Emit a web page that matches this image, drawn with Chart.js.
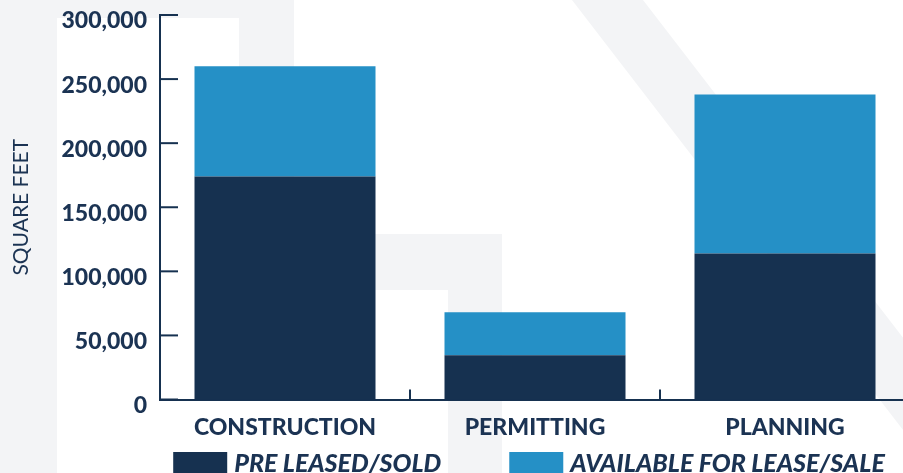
<!DOCTYPE html>
<html>
<head>
<meta charset="utf-8">
<script src="https://cdn.jsdelivr.net/npm/chart.js@4.4.1/dist/chart.umd.min.js"></script>
<style>
  html, body { margin: 0; padding: 0; background: #fff; overflow: hidden; }
  #wrap { position: relative; width: 920px; height: 473px; }
</style>
</head>
<body>
<div id="wrap"><canvas id="sqftChart"></canvas></div>
<script>
// 카테고리와 시리즈 값
const categories = ['CONSTRUCTION', 'PERMITTING', 'PLANNING'];
const preLeasedSold = [174000, 34500, 114000];
const availableLeaseSale = [86000, 33500, 124000];
const seriesLabels = ['PRE LEASED/SOLD', 'AVAILABLE FOR LEASE/SALE'];
const yTickValues = [0, 50000, 100000, 150000, 200000, 250000, 300000];

const NAVY = '#163150';
const BLUE = '#2590c6';
const TEXT = '#1b3353';
const GRAY = '#f3f4f6';
const FONT = 'Lato';

// 배경 장식 (회색 도형)
const backdrop = {
    id: 'backdrop',
    beforeDraw(chart) {
        const ctx = chart.ctx;
        ctx.save();
        ctx.fillStyle = '#fff';
        ctx.fillRect(0, 0, chart.width, chart.height);
        ctx.fillStyle = GRAY;
        ctx.fillRect(0, 0, 57, chart.height);
        ctx.fillRect(0, 0, 294, 18);
        ctx.fillRect(239, 0, 55, 240);
        ctx.fillRect(294, 234, 208, 56);
        ctx.fillRect(448, 234, 54, chart.height);
        ctx.beginPath();
        ctx.moveTo(572, 0);
        ctx.lineTo(643, 0);
        ctx.lineTo(643 + 0.77 * chart.height, chart.height);
        ctx.lineTo(572 + 0.77 * chart.height, chart.height);
        ctx.closePath();
        ctx.fill();
        ctx.restore();
    }
};

// 축 안쪽으로 향하는 눈금 표시
const innerTicks = {
    id: 'innerTicks',
    afterDatasetsDraw(chart) {
        const {ctx, scales: {x, y}} = chart;
        ctx.save();
        ctx.strokeStyle = NAVY;
        ctx.lineWidth = 2;
        y.ticks.forEach((t, i) => {
            const py = y.getPixelForTick(i);
            ctx.beginPath();
            ctx.moveTo(y.right, py);
            ctx.lineTo(y.right + 18, py);
            ctx.stroke();
        });
        for (let i = 0; i < categories.length - 1; i++) {
            const px = (x.getPixelForValue(i) + x.getPixelForValue(i + 1)) / 2;
            ctx.beginPath();
            ctx.moveTo(px, x.top);
            ctx.lineTo(px, x.top - 10);
            ctx.stroke();
        }
        ctx.restore();
    }
};

// 하단 범례 (차트 아래 한 줄로)
const bottomLegend = {
    id: 'bottomLegend',
    afterDraw(chart) {
        const {ctx, chartArea} = chart;
        const boxW = 54, boxH = 24, gap = 7, itemGap = 68;
        ctx.save();
        ctx.font = 'italic 900 25px ' + FONT;
        ctx.textBaseline = 'middle';
        const items = chart.data.datasets.map(ds => ({
            text: ds.label,
            color: ds.backgroundColor,
            w: boxW + gap + ctx.measureText(ds.label).width
        }));
        const total = items.reduce((s, it) => s + it.w, 0) + itemGap * (items.length - 1);
        let x = (chartArea.left + chartArea.right) / 2 - 6 - total / 2;
        const cy = chartArea.bottom + 64.5;
        items.forEach(it => {
            ctx.fillStyle = it.color;
            ctx.fillRect(x, cy - boxH / 2, boxW, boxH);
            ctx.fillStyle = TEXT;
            ctx.fillText(it.text, x + boxW + gap, cy);
            x += it.w + itemGap;
        });
        ctx.restore();
    }
};

const ctx = document.getElementById('sqftChart').getContext('2d');
const sqftChart = new Chart(ctx, {
    type: 'bar',
    data: {
        labels: categories,
        datasets: [
            { label: seriesLabels[0], data: preLeasedSold, backgroundColor: NAVY },
            { label: seriesLabels[1], data: availableLeaseSale, backgroundColor: BLUE }
        ]
    },
    options: {
        responsive: true,
        maintainAspectRatio: false,
        animation: false,
        barPercentage: 0.724,
        categoryPercentage: 1,
        layout: { padding: { top: 15, right: 10, left: 0, bottom: 0 } },
        scales: {
            x: {
                stacked: true,
                grid: { display: false, drawTicks: false },
                border: { display: true, color: NAVY, width: 2 },
                ticks: {
                    color: TEXT,
                    padding: 14,
                    maxRotation: 0,
                    autoSkip: false,
                    font: { family: FONT, size: 23, weight: 900 }
                },
                afterFit(scale) { scale.height = 73.5; }
            },
            y: {
                stacked: true,
                min: 0,
                max: 300000,
                grid: { display: false, drawTicks: false },
                border: { display: true, color: NAVY, width: 2 },
                afterBuildTicks(scale) {
                    scale.ticks = yTickValues.map(v => ({ value: v }));
                },
                ticks: {
                    color: TEXT,
                    padding: 13,
                    labelOffset: 6,
                    font: { family: FONT, size: 23, weight: 900, lineHeight: 0.1 },
                    callback: v => v.toLocaleString('en-US')
                },
                title: {
                    display: true,
                    text: 'SQUARE FEET',
                    color: TEXT,
                    padding: { top: 9, bottom: 0 },
                    font: { family: FONT, size: 21, weight: 'normal' }
                },
                afterFit(scale) { scale.width = 160; }
            }
        },
        plugins: {
            legend: { display: false },
            tooltip: { enabled: false }
        }
    },
    plugins: [backdrop, innerTicks, bottomLegend]
});
</script>
</body>
</html>
